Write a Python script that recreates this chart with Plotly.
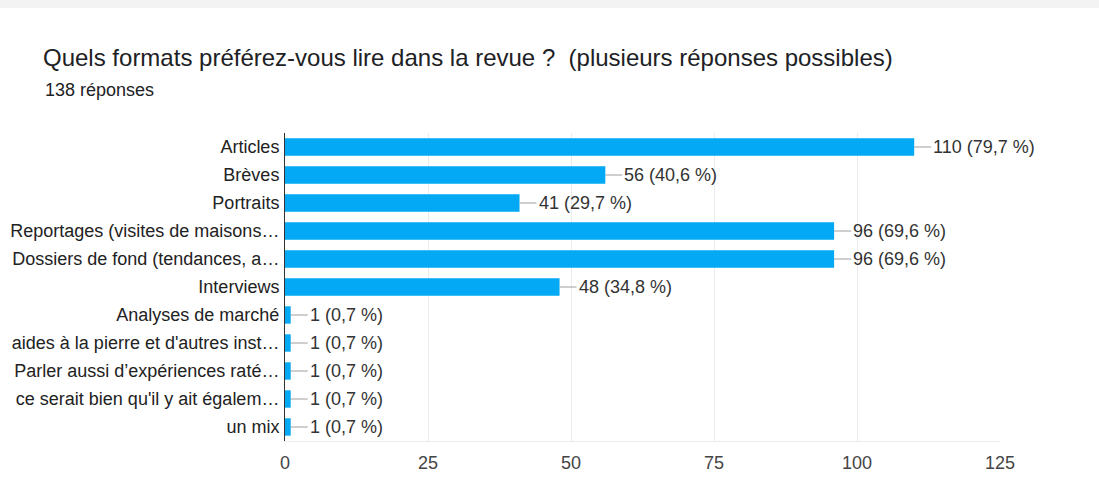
import plotly.graph_objects as go

categories = [
    "Articles",
    "Brèves",
    "Portraits",
    "Reportages (visites de maisons…",
    "Dossiers de fond (tendances, a…",
    "Interviews",
    "Analyses de marché",
    "aides à la pierre et d'autres inst…",
    "Parler aussi d’expériences raté…",
    "ce serait bien qu'il y ait égalem…",
    "un mix",
]
counts = [110, 56, 41, 96, 96, 48, 1, 1, 1, 1, 1]
total_responses = 138
x_ticks = [0, 25, 50, 75, 100, 125]

title_text = "Quels formats préférez-vous lire dans la revue ?  (plusieurs réponses possibles)"
subtitle_text = f"{total_responses} réponses"

FONT = "Liberation Sans, Arial, sans-serif"
W, H = 1099, 480
ML, MR, MT, MB = 285, 99, 133, 39


def fmt(v):
    pct = f"{v / total_responses * 100:.1f}".replace(".", ",")
    return f"{v} ({pct} %)"


fig = go.Figure()
fig.add_trace(go.Bar(
    x=counts,
    y=categories,
    orientation="h",
    marker=dict(color="#03A9F4", line=dict(width=0)),
    width=0.62,
    hoverinfo="skip",
))

annotations = []
for c, v in zip(categories, counts):
    annotations.append(dict(
        x=v, y=c, xref="x", yref="y",
        text=fmt(v),
        showarrow=True, arrowhead=0, arrowwidth=1, arrowcolor="#9e9e9e",
        ax=17, ay=0, xanchor="left", yanchor="middle", standoff=0,
        font=dict(family=FONT, size=18, color="#333333"),
    ))

ph = H - MT - MB
annotations.append(dict(
    xref="paper", yref="paper",
    x=(43 - ML) / (W - ML - MR), y=1 + (MT - 90) / ph,
    xanchor="left", yanchor="middle", showarrow=False,
    text=subtitle_text,
    font=dict(family=FONT, size=18, color="#202124"),
))

fig.update_layout(
    width=W, height=H,
    margin=dict(l=ML, r=MR, t=MT, b=MB, autoexpand=False),
    paper_bgcolor="white", plot_bgcolor="white",
    showlegend=False,
    title=dict(
        text=title_text,
        xref="container", yref="container",
        x=43 / W, y=1 - 58 / H, xanchor="left", yanchor="middle",
        font=dict(family=FONT, size=24, color="#202124"),
    ),
    xaxis=dict(
        range=[0, 125], tickvals=x_ticks,
        showgrid=True, gridcolor="#ebebeb", gridwidth=1,
        zeroline=False, showline=True, linecolor="#ebebeb", linewidth=1,
        ticks="", ticklabelstandoff=5,
        tickfont=dict(family=FONT, size=18, color="#444444"),
        fixedrange=True, automargin=False,
    ),
    yaxis=dict(
        categoryorder="array", categoryarray=categories,
        range=[len(categories) - 0.5, -0.5],
        showgrid=False, zeroline=False,
        showline=True, linecolor="#333333", linewidth=1,
        ticks="", ticklabelstandoff=1,
        tickfont=dict(family=FONT, size=18, color="#222222"),
        fixedrange=True, automargin=False,
    ),
    annotations=annotations,
    shapes=[dict(type="rect", xref="paper", yref="paper",
                 x0=-1, x1=2, y0=1 + (MT - 8) / ph, y1=1 + MT / ph,
                 fillcolor="#f3f3f3", line=dict(width=0), layer="below")],
)

fig.write_html(
    "out.html",
    config={"displayModeBar": False, "staticPlot": True},
    post_script="document.body.style.margin='0';document.body.style.overflow='hidden';",
)
